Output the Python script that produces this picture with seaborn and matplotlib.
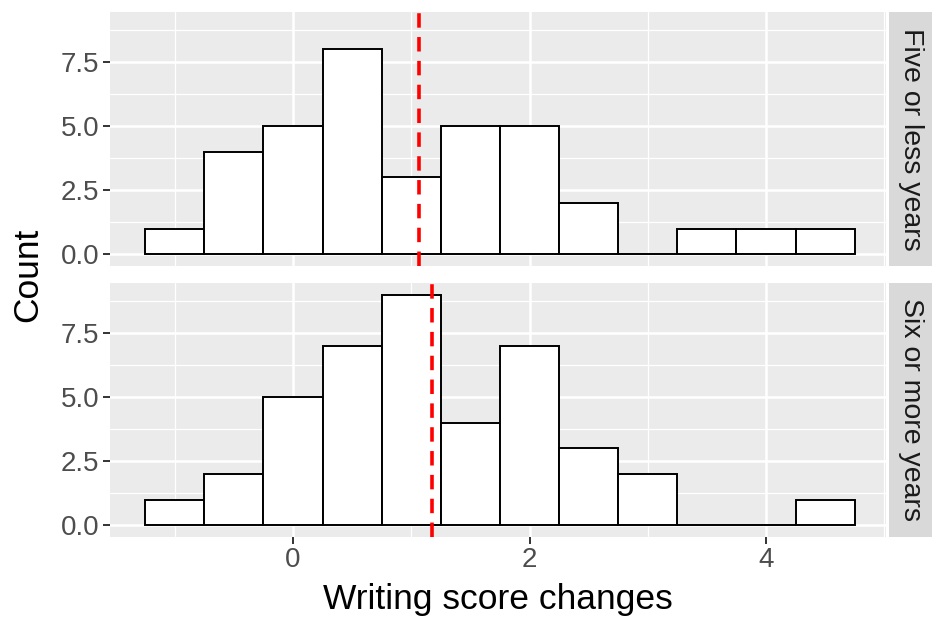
import numpy as np
import pandas as pd
import matplotlib
matplotlib.use("Agg")
import matplotlib.pyplot as plt
import seaborn as sns

# ---- data ----
bin_centers = [-1.0, -0.5, 0.0, 0.5, 1.0, 1.5, 2.0, 2.5, 3.0, 3.5, 4.0, 4.5]
counts_five_or_less = [1, 4, 5, 8, 3, 5, 5, 2, 0, 1, 1, 1]
counts_six_or_more = [1, 2, 5, 7, 9, 4, 7, 3, 2, 0, 0, 1]
panel_labels = ["Five or less years", "Six or more years"]
mean_lines = [1.068, 1.178]
x_ticks = [0, 2, 4]
y_ticks = [0.0, 2.5, 5.0, 7.5]

bin_width = 0.5
edges = [bin_centers[0] - bin_width / 2] + [c + bin_width / 2 for c in bin_centers]

sns.set_theme(style="darkgrid")
plt.rcParams["font.family"] = ["Liberation Sans", "DejaVu Sans"]

fig = plt.figure(figsize=(9.32, 6.2), dpi=100)
W, H = 932, 620

def px_axes(x0, y0, x1, y1):
    return fig.add_axes([x0 / W, 1 - y1 / H, (x1 - x0) / W, (y1 - y0) / H])

panels = [(12, 266), (283, 537)]
series = [counts_five_or_less, counts_six_or_more]

for i, ((y0, y1), counts, lab, mline) in enumerate(zip(panels, series, panel_labels, mean_lines)):
    ax = px_axes(110, y0, 886, y1)
    ax.set_facecolor("#EBEBEB")
    df = pd.DataFrame({"x": bin_centers, "n": counts})
    sns.histplot(data=df, x="x", weights="n", bins=edges, ax=ax,
                 color="white", edgecolor="black", linewidth=1.4, alpha=1, zorder=3)
    ax.axvline(mline, color="#FF0000", linewidth=2.6, dashes=(4, 2.6), zorder=4)
    ax.set_xlim(-1.548, 5.015)
    ax.set_ylim(-0.45, 9.45)
    ax.set_xticks(x_ticks)
    ax.set_xticks([-1, 1, 3, 5], minor=True)
    ax.set_yticks(y_ticks)
    ax.set_yticks([1.25, 3.75, 6.25, 8.75], minor=True)
    ax.set_yticklabels([f"{v:.1f}" for v in y_ticks])
    ax.grid(True, which="major", color="white", linewidth=1.8, zorder=0)
    ax.grid(True, which="minor", color="white", linewidth=0.9, zorder=0)
    ax.set_axisbelow(True)
    for s in ax.spines.values():
        s.set_visible(False)
    ax.tick_params(axis="both", which="major", length=5, width=1.4, color="#333333",
                   labelsize=20, labelcolor="#4D4D4D", pad=2.5, direction="out",
                   bottom=True, left=True)
    ax.tick_params(axis="both", which="minor", length=0)
    ax.set_ylabel("")
    ax.set_xlabel("")
    if i == 0:
        ax.tick_params(axis="x", which="both", bottom=False, labelbottom=False)
    else:
        ax.set_xticklabels([str(t) for t in x_ticks])

    # strip on the right
    sax = px_axes(889, y0, 932, y1)
    sax.set_facecolor("#D9D9D9")
    sax.set_xticks([]); sax.set_yticks([])
    for s in sax.spines.values():
        s.set_visible(False)
    sax.text(0.5, 0.5, lab, rotation=-90, ha="center", va="center",
             fontsize=20.5, color="#1A1A1A", transform=sax.transAxes)

fig.text(498 / W, 1 - 600 / H, "Writing score changes", ha="center", va="center",
         fontsize=25.5, color="black")
fig.text(28 / W, 1 - 275 / H, "Count", ha="center", va="center", rotation=90,
         fontsize=25.5, color="black")

fig.savefig("out.png", dpi=100)
